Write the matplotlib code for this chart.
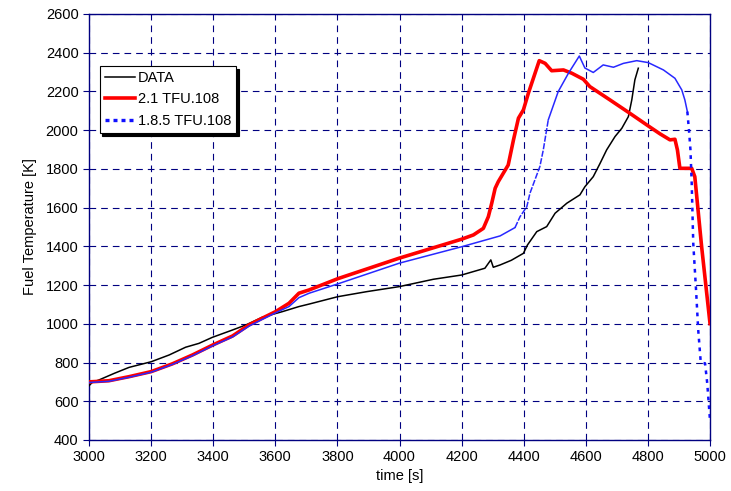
import matplotlib
matplotlib.use("Agg")
import matplotlib.pyplot as plt
from matplotlib.lines import Line2D
import numpy as np

plt.rcParams["font.family"] = ["Liberation Sans", "DejaVu Sans"]

# measured fuel temperature
t_data = [3000, 3010, 3032, 3081, 3129, 3200, 3258, 3311, 3354, 3397, 3462, 3505,
          3558, 3623, 3676, 3709, 3801, 3894, 3999, 4109, 4200, 4275, 4294, 4302,
          4324, 4360, 4399, 4412, 4442, 4474, 4501, 4539, 4581, 4597, 4624, 4646,
          4667, 4694, 4716, 4737, 4748, 4758, 4769]
T_data = [680, 697, 710, 744, 775, 804, 839, 879, 899, 930, 968, 994,
          1034, 1063, 1089, 1102, 1140, 1166, 1192, 1230, 1252, 1287, 1330, 1292,
          1304, 1328, 1364, 1407, 1476, 1502, 1571, 1623, 1666, 1708, 1760, 1829,
          1898, 1967, 2010, 2070, 2156, 2260, 2320]

# code version 2.1
t_v21 = [3000, 3064, 3129, 3200, 3268, 3333, 3399, 3462, 3515, 3558, 3601, 3644,
         3676, 3709, 3801, 3999, 4200, 4238, 4270, 4286, 4297, 4308, 4318, 4350,
         4367, 4383, 4399, 4415, 4450, 4469, 4490, 4528, 4555, 4592, 4613, 4678,
         4742, 4801, 4839, 4871, 4887, 4895, 4903, 4941, 4951, 4973, 5000]
T_v21 = [700, 706, 727, 753, 793, 839, 891, 937, 994, 1029, 1063, 1106,
         1158, 1175, 1233, 1339, 1437, 1459, 1493, 1553, 1623, 1700, 1734, 1820,
         1950, 2062, 2105, 2191, 2359, 2345, 2307, 2311, 2294, 2263, 2225, 2156,
         2087, 2022, 1981, 1950, 1953, 1898, 1803, 1803, 1760, 1398, 1001]

# code version 1.8.5
t_v185 = [3000, 3064, 3129, 3200, 3268, 3333, 3399, 3462, 3515, 3558, 3601, 3644,
          3676, 3709, 3801, 3999, 4200, 4324, 4372, 4388, 4410, 4420, 4452, 4463,
          4479, 4511, 4544, 4579, 4597, 4624, 4656, 4689, 4721, 4764, 4801, 4850,
          4887, 4909, 4919, 4927, 4933, 4937, 4941, 4946, 4955, 4962, 4970, 4976,
          4984, 4991, 5000]
T_v185 = [697, 703, 724, 750, 790, 835, 887, 932, 988, 1023, 1057, 1089,
          1135, 1158, 1206, 1313, 1398, 1454, 1497, 1553, 1605, 1674, 1812, 1898,
          2053, 2199, 2294, 2383, 2321, 2298, 2337, 2325, 2345, 2359, 2349, 2311,
          2268, 2208, 2156, 2096, 1984, 1898, 1726, 1416, 1175, 968, 804, 798,
          796, 693, 500]

navy = "#000080"

fig = plt.figure(figsize=(7.31, 4.91), dpi=100)
ax = fig.add_axes([0.1218, 0.1039, 0.8495, 0.8676])

ax.plot(t_data, T_data, color="black", lw=1.1, zorder=3)
ax.plot(t_v21, T_v21, color="#ff0000", lw=2.6, zorder=4)

# 1.8.5: thin line where samples are dense, broken where it climbs/drops fast
t185 = np.array(t_v185)
T185 = np.array(T_v185)
solid = t185 <= 4372
ax.plot(t185[solid], T185[solid], color="#2828ff", lw=1.1, zorder=5)
mid = (t185 >= 4372) & (t185 <= 4479)
ax.plot(t185[mid], T185[mid], color="#2828ff", lw=1.1, ls=(0, (4, 1)), zorder=5)
top = (t185 >= 4479) & (t185 <= 4927)
ax.plot(t185[top], T185[top], color="#2828ff", lw=1.1, zorder=5)
drop = t185 >= 4927
ax.plot(t185[drop], T185[drop], color="#1010ff", lw=1.8, ls=(0, (1.5, 2)), zorder=5)

ax.set_xlim(3000, 5000)
ax.set_ylim(400, 2600)
ax.set_xticks(np.arange(3000, 5001, 200))
ax.set_yticks(np.arange(400, 2601, 200))
ax.grid(True, color=navy, ls=(0, (6, 4.5)), lw=0.8)
ax.set_axisbelow(True)
for s in ax.spines.values():
    s.set_color(navy)
    s.set_linewidth(1.0)
ax.tick_params(colors=navy, labelcolor="black", direction="out", length=4,
               width=0.8, labelsize=10.5)

ax.set_xlabel("time [s]", fontsize=10.5, labelpad=3)
ax.set_ylabel("Fuel Temperature [K]", fontsize=10.5, labelpad=6)

handles = [Line2D([], [], color="black", lw=1.1),
           Line2D([], [], color="#ff0000", lw=2.6),
           Line2D([], [], color="#1010ff", lw=2.4, ls=(0, (1.2, 1.2)))]
leg = ax.legend(handles, ["DATA", "2.1 TFU.108", "1.8.5 TFU.108"],
                loc="upper left", bbox_to_anchor=(0.017, 0.878), fontsize=10.5,
                fancybox=False, shadow={"color": "black", "alpha": 1},
                framealpha=1, edgecolor="black", borderpad=0.35,
                handlelength=2.1, handletextpad=0.15, labelspacing=0.5,
                borderaxespad=0)
leg.get_frame().set_linewidth(0.8)

fig.savefig("out.png", dpi=100)
